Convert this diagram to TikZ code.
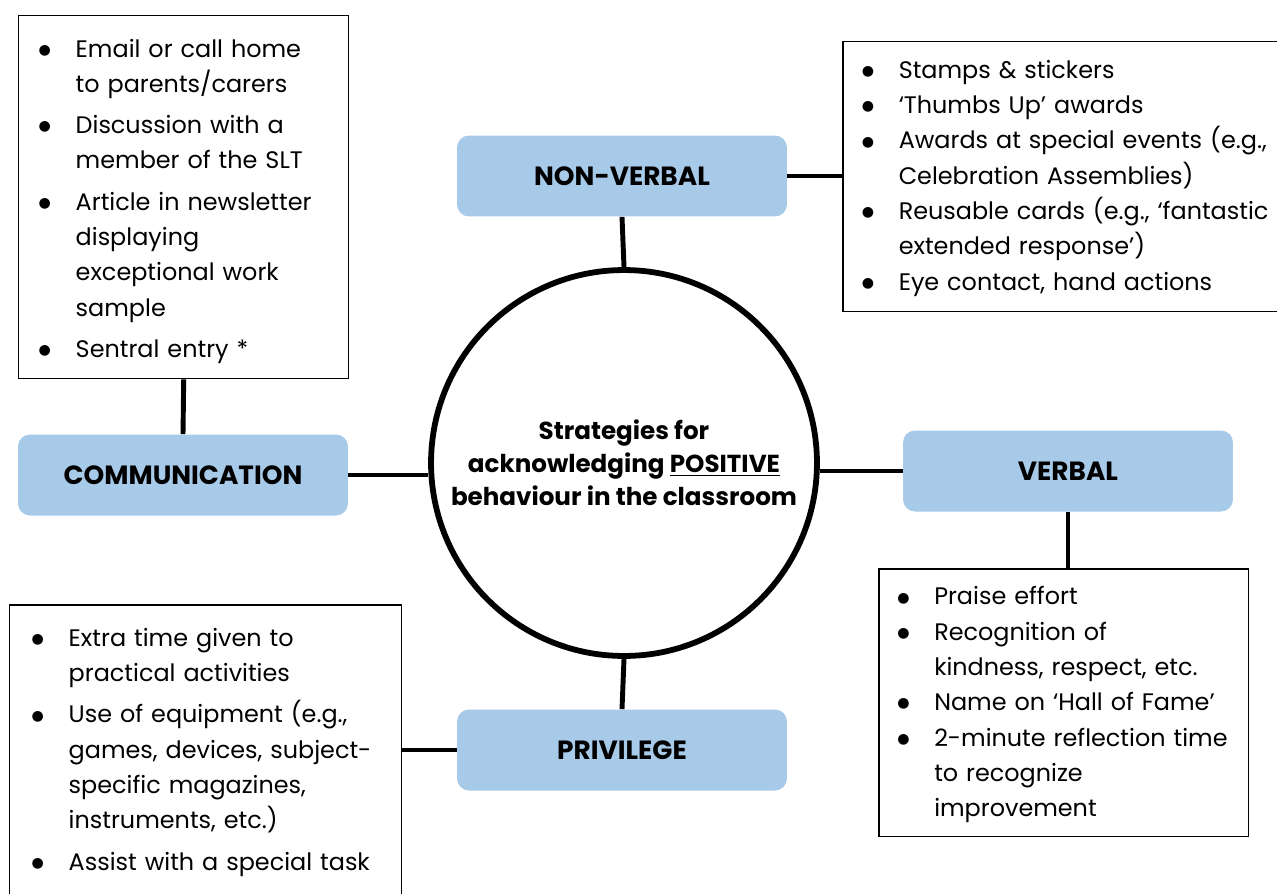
\documentclass[tikz,border=0pt]{standalone}
\usepackage{fontspec}
\setmainfont{Poppins}
\newfontfamily\bulletfont{DejaVu Sans}
\usepackage{enumitem}
\definecolor{catblue}{RGB}{167,202,233}
\newcommand{\listdot}{\raisebox{1.6pt}{\bulletfont\fontsize{8}{8}\selectfont ●}}
\newlist{points}{itemize}{1}
\setlist[points]{label=\listdot, left=0pt .. 0.74cm, align=left, topsep=0pt, partopsep=0pt, parsep=0pt, itemsep=3.4pt}
\tikzset{
  catbox/.style={rectangle, rounded corners=0.24cm, fill=catblue, minimum width=6.6cm, minimum height=1.62cm, font=\fontsize{15}{18}\selectfont\bfseries},
  listbox/.style={rectangle, draw, line width=0.85pt, align=left, anchor=north west, inner ysep=0pt, font=\fontsize{13.6}{20.1}\selectfont},
  link/.style={line width=2.8pt},
}

\begin{document}
\begin{tikzpicture}[x=0.02cm, y=-0.02cm]
        \useasboundingbox (0,0) rectangle (1277,893);
        \clip (0,0) rectangle (1277,893);
        \node[circle, draw, line width=3.3pt, minimum size=7.72cm, inner sep=0pt, align=center, font=\fontsize{14}{18.8}\selectfont\bfseries] (hub) at (624,463) {Strategies for\\acknowledging \underline{POSITIVE}\\behaviour in the classroom};
        \node[catbox] (nonverbal) at (622,176) {NON-VERBAL};
        \node[catbox] (comms) at (183,475) {COMMUNICATION};
        \node[catbox] (verbal) at (1068,471) {VERBAL};
        \node[catbox] (privilege) at (622,750) {PRIVILEGE};
        \node[listbox, inner xsep=0.4cm, text width=5.8cm, minimum height=7.26cm] (commlist) at (18,15) {%
          \vspace*{-0.18cm}
          \begin{points}
            \item Email or call home\\to parents/carers
            \item Discussion with a\\member of the SLT
            \item Article in newsletter\\displaying\\exceptional work\\sample
            \item Sentral entry *
          \end{points}};
        \node[listbox, inner xsep=0.38cm, text width=8.24cm, minimum height=5.4cm] (nvlist) at (842,41) {%
          \vspace*{-0.28cm}
          \begin{points}[itemsep=0pt]
            \item Stamps \& stickers
            \item ‘Thumbs Up’ awards
            \item Awards at special events (e.g.,\\Celebration Assemblies)
            \item Reusable cards (e.g., ‘fantastic\\extended response’)
            \item Eye contact, hand actions
          \end{points}};
        \node[listbox, inner xsep=0.37cm, text width=6.66cm, minimum height=5.36cm] (verblist) at (878,568) {%
          \vspace*{-0.26cm}
          \begin{points}[itemsep=0pt]
            \item Praise effort
            \item Recognition of\\kindness, respect, etc.
            \item Name on ‘Hall of Fame’
            \item 2-minute reflection time\\to recognize\\improvement
          \end{points}};
        \node[listbox, inner xsep=0.44cm, text width=6.96cm, minimum height=5.84cm] (privlist) at (9,604) {%
          \vspace*{-0.28cm}
          \begin{points}
            \item Extra time given to\\practical activities
            \item Use of equipment (e.g.,\\games, devices, subject-\\specific magazines,\\instruments, etc.)
            \item Assist with a special task
          \end{points}};
        \draw[link] (commlist.south) -- (comms.north);
        \draw[link] (comms.east) -- (comms.east -| hub.west);
        \draw[link] (hub.north) -- (nonverbal.south);
        \draw[link] (nonverbal.east) -- (nonverbal.east -| nvlist.west);
        \draw[link] (verbal.west -| hub.east) -- (verbal.west);
        \draw[link] (verbal.south) -- (verbal.south |- verblist.north);
        \draw[link] (hub.south) -- (privilege.north);
        \draw[link] (privilege.west) -- (privilege.west -| privlist.east);
    \end{tikzpicture}
\end{document}
